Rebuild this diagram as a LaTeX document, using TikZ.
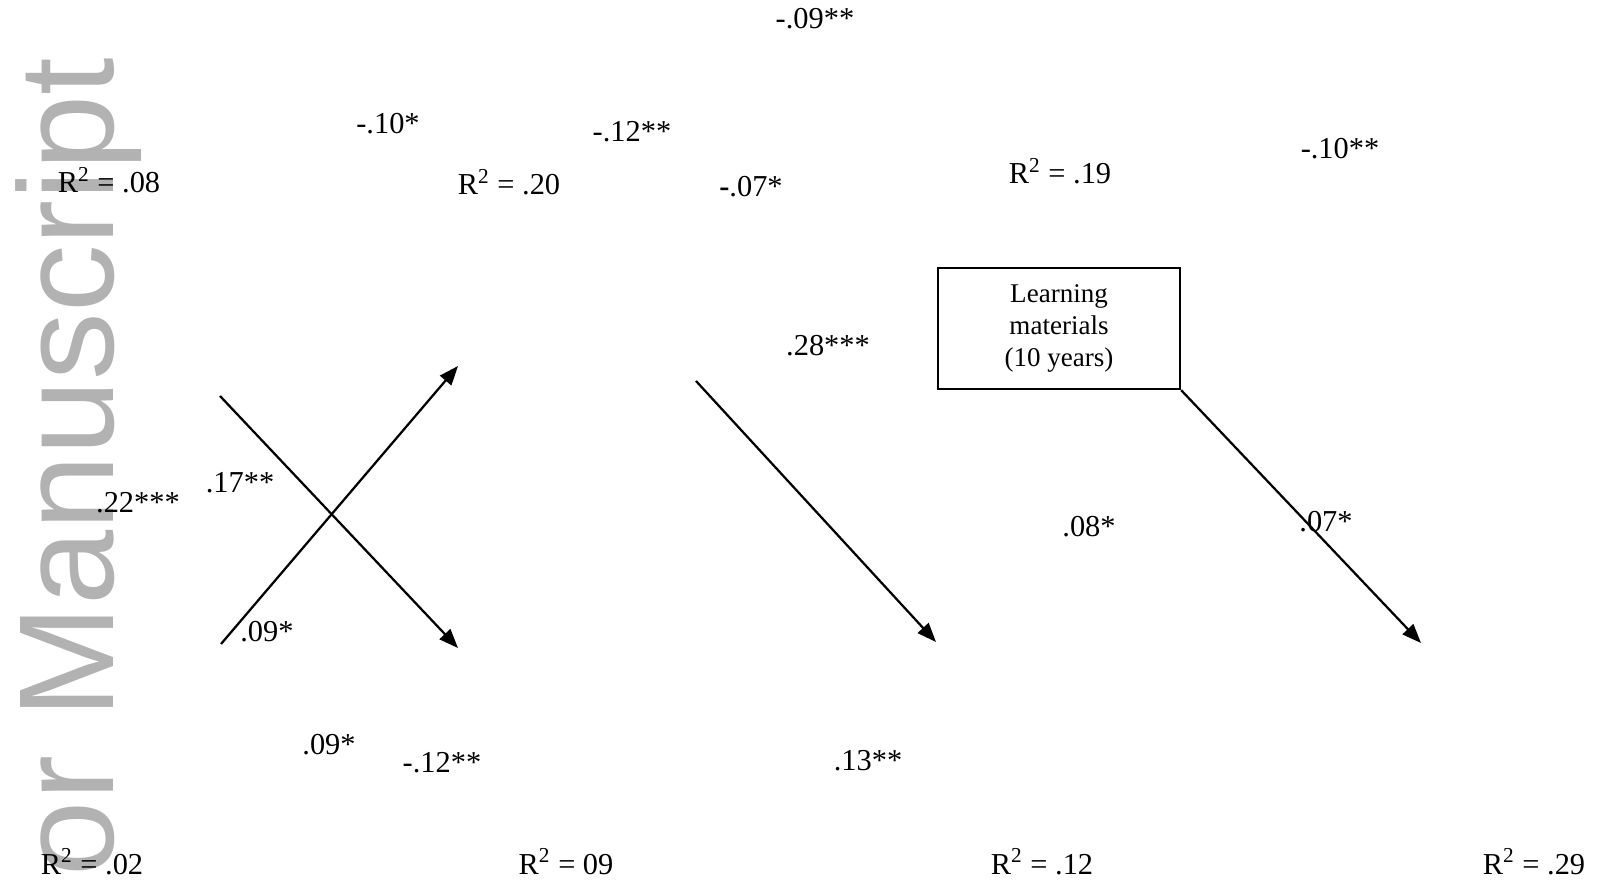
\documentclass[tikz,border=0pt]{standalone}
\usepackage{fontspec}
\setmainfont{Liberation Serif}
\newfontfamily\wmfont{Liberation Sans}
\usetikzlibrary{arrows.meta,positioning}
\definecolor{wmgray}{RGB}{178,178,178}

\begin{document}
\begin{tikzpicture}[x=0.444pt, y=-0.444pt,
  coef/.style={font=\fontsize{13.5}{16}\selectfont, anchor=base, inner sep=0pt},
  rsq/.style={coef},
  box/.style={draw, line width=1.1pt, minimum width=107.4pt,
              minimum height=53.7pt, inner sep=0pt, align=center,
              font=\fontsize{12}{14.2}\selectfont},
  arr/.style={-{Triangle[length=8.5pt,width=6.5pt]}, line width=1pt},
  wmark/.style={font=\wmfont\fontsize{60}{60}\selectfont, text=wmgray,
                rotate=90, anchor=base east, inner sep=0pt}
]
\useasboundingbox (0,0) rectangle (1602,881);

% Watermark
\node[wmark] (wm) at (113,57) {or Manuscript};

% R squared
\node[rsq] (r08) at (109,193) {R\textsuperscript{2} = .08};
\node[rsq] (r20) at (509,195) {R\textsuperscript{2} = .20};
\node[rsq] (r19) at (1060,184) {R\textsuperscript{2} = .19};
\node[rsq] (r02) at (92,874) {R\textsuperscript{2} = .02};
\node[rsq] (r09) at (566,874) {R\textsuperscript{2} = 09};
\node[rsq] (r12) at (1042,874) {R\textsuperscript{2} = .12};
\node[rsq] (r29) at (1534,874) {R\textsuperscript{2} = .29};

% Box
\node[box] (learn) at (1059,328.5) {Learning\\materials\\(10 years)};

% Coefficients, top
\node[coef] (c1) at (815,29) {-.09**};
\node[coef] (c2) at (388,134) {-.10*};
\node[coef] (c3) at (632,142) {-.12**};
\node[coef] (c4) at (751,197) {\textbf{-}.07*};
\node[coef] (c5) at (1340,159) {-.10**};

% Coefficients, middle
\node[coef] (c6) at (828,356) {.28***};
\node[coef] (c7) at (240,493) {.17**};
\node[coef] (c8) at (138,512) {.22***};
\node[coef] (c9) at (1089,537) {.08*};
\node[coef] (c10) at (1326,531) {.07*};
\node[coef] (c11) at (267,641) {.09*};

% Coefficients, bottom
\node[coef] (c12) at (329,754) {.09*};
\node[coef] (c13) at (442,772) {-.12**};
\node[coef] (c14) at (868,770) {.13**};

% Arrows
\coordinate (a1s) at (220,396);
\coordinate (a1e) at (458,648);
\coordinate (a2s) at (221,644);
\coordinate (a2e) at (458,366);
\coordinate (a3s) at (696,381);
\coordinate (a3e) at (936,642);
\coordinate (a4e) at (1421,643);
\draw[arr] (a1s) -- (a1e);
\draw[arr] (a2s) -- (a2e);
\draw[arr] (a3s) -- (a3e);
\draw[arr] (learn.south east) -- (a4e);

\end{tikzpicture}
\end{document}
